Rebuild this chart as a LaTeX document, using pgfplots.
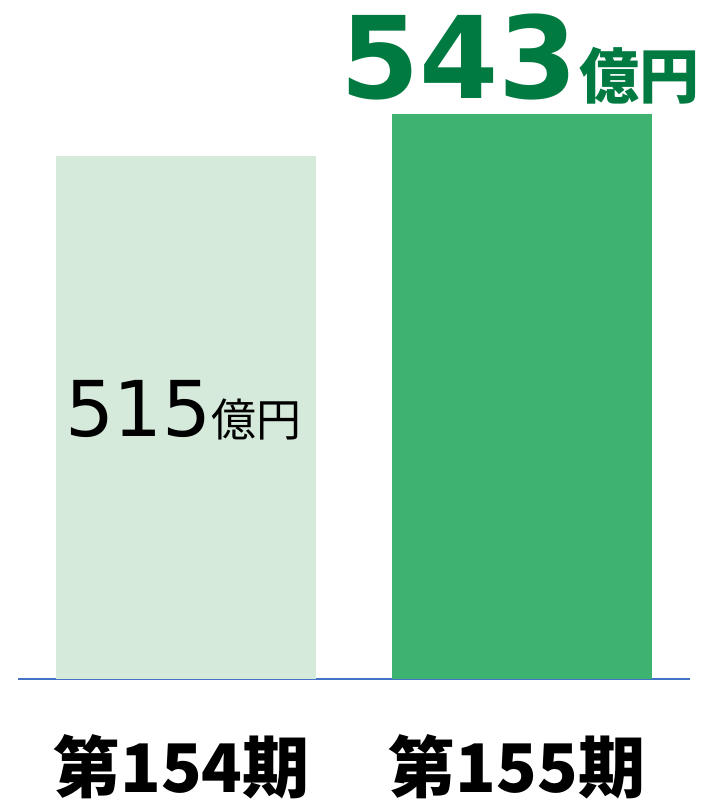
\documentclass[border=0pt]{standalone}
\usepackage{pgfplots}
\pgfplotsset{compat=1.18}
\usepackage{fontspec}
\newfontfamily\cjk{Noto Sans CJK JP}
\newfontfamily\dv{DejaVu Sans}
\definecolor{lightbar}{RGB}{213,234,218}
\definecolor{darkbar}{RGB}{62,179,112}
\definecolor{deepgreen}{RGB}{0,122,64}
\definecolor{baseblue}{RGB}{68,114,196}
\begin{document}
\begin{tikzpicture}
\useasboundingbox (0,0) rectangle (705bp,800bp);
\begin{axis}[
  at={(18bp,121bp)}, anchor=south west,
  scale only axis, width=672bp, height=679bp,
  xmin=-0.5022, xmax=1.5007, ymin=166.33, ymax=619,
  axis x line*=bottom, axis y line=none,
  x axis line style={baseblue, line width=1.2bp},
  major tick length=0pt,
  xtick={0,1}, xticklabels={第154期,第155期},
  xticklabel style={font=\cjk\bfseries\fontsize{67bp}{67bp}\selectfont, anchor=base, yshift=-113bp, xshift=-5bp},
  ytick=\empty,
  ybar, bar width=260bp, bar shift=0pt,
  clip mode=individual,
]
\addplot[fill=lightbar, draw=none, bar shift=0pt] coordinates {(0,515)};
\addplot[fill=darkbar, draw=none, bar shift=0pt] coordinates {(1,543)};
\node[anchor=base, inner sep=0pt, xshift=-3bp] at (axis cs:0,327.7)
  {\dv\fontsize{77bp}{77bp}\selectfont 515\cjk\fontsize{45bp}{45bp}\selectfont 億円};
\node[anchor=base, inner sep=0pt, text=deepgreen, xshift=-2bp] at (axis cs:1,553)
  {\dv\bfseries\fontsize{114bp}{114bp}\selectfont 543\kern2bp\cjk\bfseries\fontsize{60bp}{60bp}\selectfont 億円};
\end{axis}
\end{tikzpicture}
\end{document}
